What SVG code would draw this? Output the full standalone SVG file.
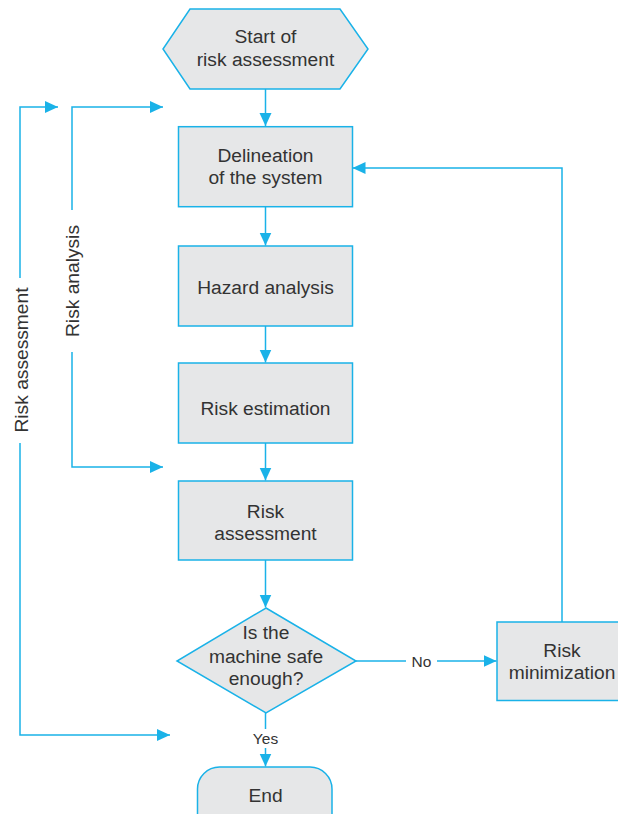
<svg xmlns="http://www.w3.org/2000/svg" width="618" height="814" viewBox="0 0 618 814">
<defs>
<marker id="ah" markerUnits="userSpaceOnUse" markerWidth="14" markerHeight="14" viewBox="0 0 14 14" refX="13" refY="7" orient="auto">
<path d="M0,1 L13,7 L0,13 Z" fill="#1ab2e8"/>
</marker>
<style>
.n{fill:#e6e7e8;stroke:#1ab2e8;stroke-width:1.5}
.c{fill:none;stroke:#1ab2e8;stroke-width:1.5}
.t{font-family:"Liberation Sans",Arial,sans-serif;font-size:19.2px;fill:#333;text-anchor:middle}
.s{font-family:"Liberation Sans",Arial,sans-serif;font-size:15.5px;fill:#333;text-anchor:middle}
</style>
</defs>
<rect width="618" height="814" fill="#fff"/>
<g id="connectors">
<path class="c" d="M265.5,89 V126" marker-end="url(#ah)"/>
<path class="c" d="M265.5,207 V245.5" marker-end="url(#ah)"/>
<path class="c" d="M265.5,326 V362.5" marker-end="url(#ah)"/>
<path class="c" d="M265.5,443 V480.5" marker-end="url(#ah)"/>
<path class="c" d="M265.5,560 V607.5" marker-end="url(#ah)"/>
<path class="c" d="M265.5,713 V729"/>
<path class="c" d="M265.5,748 V766.5" marker-end="url(#ah)"/>
<path class="c" d="M356,661 H406"/>
<path class="c" d="M437,661 H496.5" marker-end="url(#ah)"/>
<path class="c" d="M562,622 V168 H352.5" marker-end="url(#ah)"/>
<path class="c" d="M20,278 V107 H58" marker-end="url(#ah)"/>
<path class="c" d="M20,443 V735 H170" marker-end="url(#ah)"/>
<path class="c" d="M72,210 V107 H163" marker-end="url(#ah)"/>
<path class="c" d="M72,352 V467 H163" marker-end="url(#ah)"/>
<text class="s" x="421.5" y="666.5">No</text>
<text class="s" x="265.5" y="744">Yes</text>
<text class="t" transform="translate(28,360) rotate(-90)" x="0" y="0">Risk assessment</text>
<text class="t" transform="translate(79,281) rotate(-90)" x="0" y="0">Risk analysis</text>
</g>
<g id="start">
<polygon class="n" points="190,9 340,9 368,49 340,89 190,89 163,49"/>
<text class="t" x="265.5" y="43.3">Start of</text>
<text class="t" x="265.5" y="65.7">risk assessment</text>
</g>
<g id="delineation">
<rect class="n" x="178.5" y="126.7" width="174" height="80"/>
<text class="t" x="265.5" y="161.7">Delineation</text>
<text class="t" x="265.5" y="184.2">of the system</text>
</g>
<g id="hazard">
<rect class="n" x="178.5" y="246" width="174" height="80"/>
<text class="t" x="265.5" y="294">Hazard analysis</text>
</g>
<g id="estimation">
<rect class="n" x="178.5" y="363" width="174" height="80"/>
<text class="t" x="265.5" y="414.5">Risk estimation</text>
</g>
<g id="assessment">
<rect class="n" x="178.5" y="481" width="174" height="79"/>
<text class="t" x="265.5" y="517.5">Risk</text>
<text class="t" x="265.5" y="540">assessment</text>
</g>
<g id="decision">
<polygon class="n" points="266,608 356,661 266,713 177,661"/>
<text class="t" x="266" y="639.3">Is the</text>
<text class="t" x="266" y="662.7">machine safe</text>
<text class="t" x="266" y="685">enough?</text>
</g>
<g id="minimization">
<rect class="n" x="497" y="622" width="130" height="78.5"/>
<text class="t" x="562" y="656.7">Risk</text>
<text class="t" x="562" y="679">minimization</text>
</g>
<g id="end">
<rect class="n" x="197.5" y="767" width="134.5" height="70" rx="22"/>
<text class="t" x="265.5" y="801.7">End</text>
</g>
</svg>
